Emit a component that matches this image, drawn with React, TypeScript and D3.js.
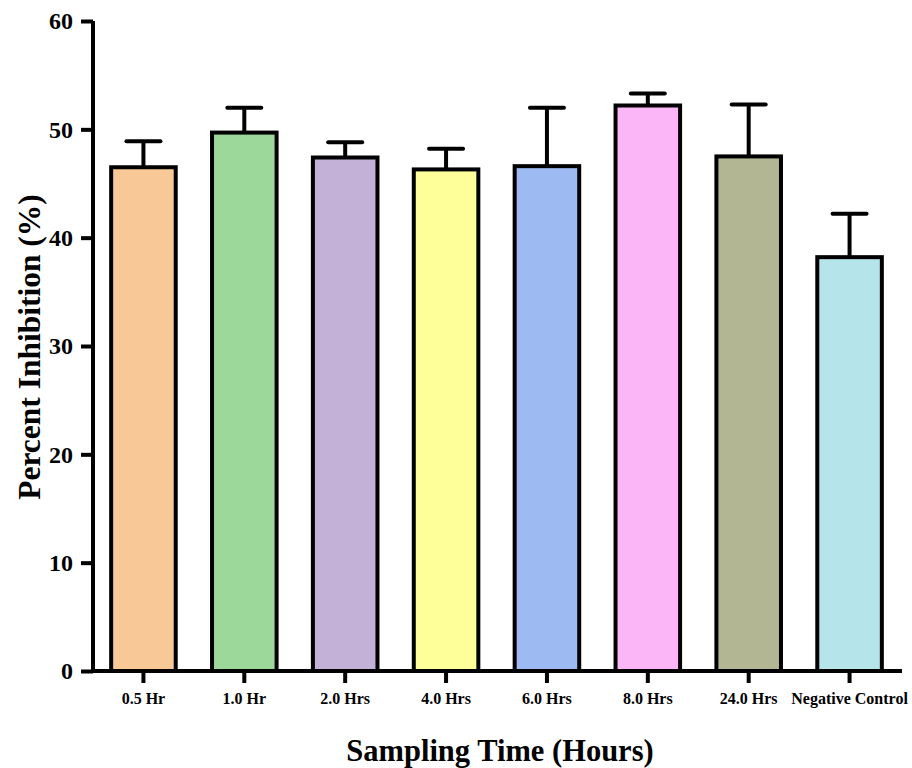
import React, { useEffect, useRef } from 'react';
import * as d3 from 'd3';

const categories = ['0.5 Hr', '1.0 Hr', '2.0 Hrs', '4.0 Hrs', '6.0 Hrs', '8.0 Hrs', '24.0 Hrs', 'Negative Control'];
const means = [46.5, 49.7, 47.4, 46.3, 46.6, 52.2, 47.5, 38.2];
const errors = [2.4, 2.3, 1.4, 1.9, 5.4, 1.1, 4.8, 4.0];
const colors = ['#F9C897', '#9DD89B', '#C3B1D8', '#FFFF99', '#9DBAF2', '#FBB6F8', '#B2B693', '#B5E4EA'];
const yTicks = [0, 10, 20, 30, 40, 50, 60];

const W = 912;
const H = 768;
const FONT = '"Liberation Serif", "Times New Roman", serif';

export default function App() {
  const ref = useRef<SVGSVGElement>(null);

  useEffect(() => {
    const svg = d3.select(ref.current);
    svg.selectAll('*').remove();

    const x = d3.scaleBand<string>()
      .domain(categories)
      .range([93, 900])
      .paddingInner(0.36)
      .paddingOuter(0.18);

    const y = d3.scaleLinear()
      .domain([0, 60])
      .range([671, 21]);

    // bars
    svg.append('g')
      .selectAll('rect')
      .data(categories)
      .join('rect')
      .attr('x', d => x(d)!)
      .attr('y', (d, i) => y(means[i]))
      .attr('width', x.bandwidth())
      .attr('height', (d, i) => y(0) - y(means[i]))
      .attr('fill', (d, i) => colors[i])
      .attr('stroke', '#000')
      .attr('stroke-width', 4);

    // error bars (upper only)
    const eb = svg.append('g').attr('stroke', '#000').attr('stroke-width', 4);
    categories.forEach((c, i) => {
      const cx = x(c)! + x.bandwidth() / 2;
      eb.append('line')
        .attr('x1', cx).attr('x2', cx)
        .attr('y1', y(means[i])).attr('y2', y(means[i] + errors[i]));
      eb.append('line')
        .attr('x1', cx - 17).attr('x2', cx + 17)
        .attr('y1', y(means[i] + errors[i])).attr('y2', y(means[i] + errors[i]))
        .attr('stroke-linecap', 'round');
    });

    // y axis
    const yAxis = svg.append('g')
      .attr('transform', 'translate(93,0)')
      .call(d3.axisLeft(y).tickValues(yTicks).tickSize(12).tickPadding(8));
    yAxis.select('.domain').attr('stroke-width', 4).attr('d', `M0,${y(60)}V${y(0) + 2}`);
    yAxis.selectAll('.tick line').attr('stroke-width', 4);
    yAxis.selectAll('.tick text')
      .attr('font-family', FONT)
      .attr('font-size', 24)
      .attr('font-weight', 'bold')
      .attr('fill', '#000');

    // x axis
    const xAxis = svg.append('g')
      .attr('transform', `translate(0,${y(0)})`)
      .call(d3.axisBottom(x).tickSize(12).tickPadding(10));
    xAxis.select('.domain').attr('stroke-width', 4).attr('d', 'M91,0H902');
    xAxis.selectAll('.tick line').attr('stroke-width', 4);
    xAxis.selectAll('.tick text')
      .attr('font-family', FONT)
      .attr('font-size', 16)
      .attr('font-weight', 'bold')
      .attr('fill', '#000');

    // axis titles
    svg.append('text')
      .attr('x', 500)
      .attr('y', 761)
      .attr('text-anchor', 'middle')
      .attr('font-family', FONT)
      .attr('font-size', 30.5)
      .attr('font-weight', 'bold')
      .text('Sampling Time (Hours)');

    svg.append('text')
      .attr('transform', 'translate(40,347) rotate(-90)')
      .attr('text-anchor', 'middle')
      .attr('font-family', FONT)
      .attr('font-size', 31.5)
      .attr('font-weight', 'bold')
      .text('Percent Inhibition (%)');
  }, []);

  return (
    <svg ref={ref} width={W} height={H}
      style={{ position: 'absolute', left: 0, top: 0, background: '#fff' }} />
  );
}
